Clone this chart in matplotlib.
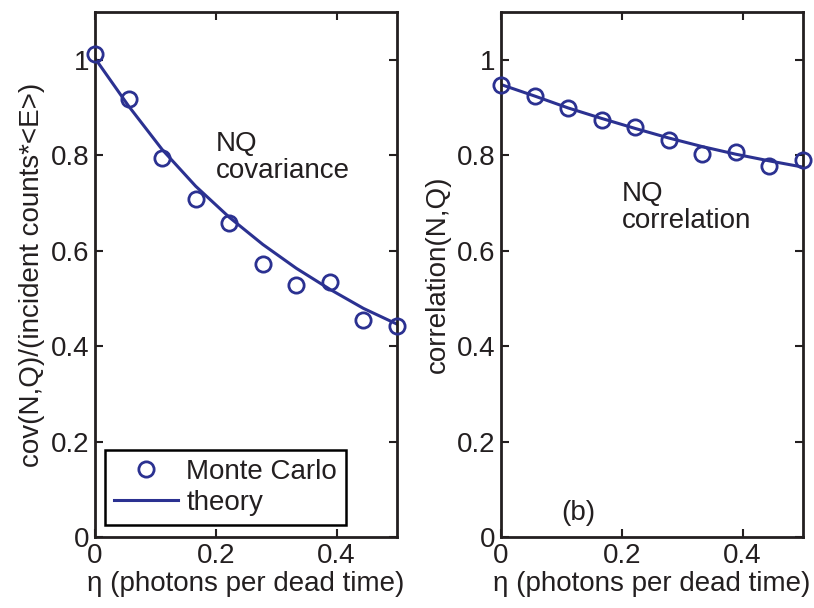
import matplotlib
matplotlib.use("Agg")
import matplotlib.pyplot as plt

plt.rcParams['font.family'] = ['Liberation Sans', 'DejaVu Sans']

# Data
eta = [0.0, 0.0556, 0.1111, 0.1667, 0.2222, 0.2778, 0.3333, 0.3889, 0.4444, 0.5]
cov_mc = [1.011, 0.917, 0.795, 0.708, 0.657, 0.573, 0.529, 0.534, 0.454, 0.443]
cov_theory = [1.003, 0.903, 0.812, 0.735, 0.670, 0.613, 0.563, 0.519, 0.479, 0.446]
corr_mc = [0.948, 0.924, 0.898, 0.873, 0.860, 0.832, 0.803, 0.806, 0.777, 0.789]
corr_theory = [0.948, 0.924, 0.899, 0.877, 0.856, 0.836, 0.818, 0.802, 0.788, 0.775]
xticks = [0, 0.2, 0.4]
yticks = [0, 0.2, 0.4, 0.6, 0.8, 1.0]
xticklabels = ['0', '0.2', '0.4']
yticklabels = ['0', '0.2', '0.4', '0.6', '0.8', '1']

blue = '#2B3191'
txt = '#231F20'
fs = 20

fig = plt.figure(figsize=(8.14, 6.08), dpi=100)
ax1 = fig.add_axes([95/814, 71/608, 302/814, 525/608])
ax2 = fig.add_axes([501/814, 71/608, 302/814, 525/608])

def style(ax):
    ax.set_xlim(0, 0.5)
    ax.set_ylim(0, 1.1)
    ax.set_xticks(xticks)
    ax.set_xticklabels(xticklabels)
    ax.set_yticks(yticks)
    ax.set_yticklabels(yticklabels)
    ax.tick_params(direction='in', length=6, width=1.5, top=True, right=True,
                   labelsize=fs, colors=txt, pad=4)
    for s in ax.spines.values():
        s.set_linewidth(2)
        s.set_color(txt)
    ax.set_xlabel('η (photons per dead time)', fontsize=fs, color=txt, labelpad=2)

style(ax1)
style(ax2)

ax1.plot(eta, cov_mc, 'o', mfc='none', mec=blue, mew=2, ms=11, label='Monte Carlo', clip_on=False, zorder=4)
ax1.plot(eta, cov_theory, '-', color=blue, lw=2.2, label='theory')
ax1.set_ylabel('cov(N,Q)/(incident counts*<E>)', fontsize=fs, color=txt, labelpad=4)
ax1.text(0.2, 0.85, 'NQ\ncovariance', fontsize=fs, color=txt, va='top', ha='left', linespacing=1.05)
leg = ax1.legend(loc='lower left', bbox_to_anchor=(0.033, 0.023), borderaxespad=0,
                 fontsize=fs, frameon=True, fancybox=False, handlelength=2.3,
                 handletextpad=0.3, labelspacing=0.18, borderpad=0.33, framealpha=1)
leg.get_frame().set_edgecolor('black')
leg.get_frame().set_linewidth(1.8)
for t in leg.get_texts():
    t.set_color(txt)

ax2.plot(eta, corr_mc, 'o', mfc='none', mec=blue, mew=2, ms=11, clip_on=False, zorder=4)
ax2.plot(eta, corr_theory, '-', color=blue, lw=2.2)
ax2.set_ylabel('correlation(N,Q)', fontsize=fs, color=txt, labelpad=4)
ax2.text(0.2, 0.745, 'NQ\ncorrelation', fontsize=fs, color=txt, va='top', ha='left', linespacing=1.05)
ax2.text(0.1, 0.05, '(b)', fontsize=fs, color=txt, va='center', ha='left')

fig.savefig('out.png', dpi=100)
